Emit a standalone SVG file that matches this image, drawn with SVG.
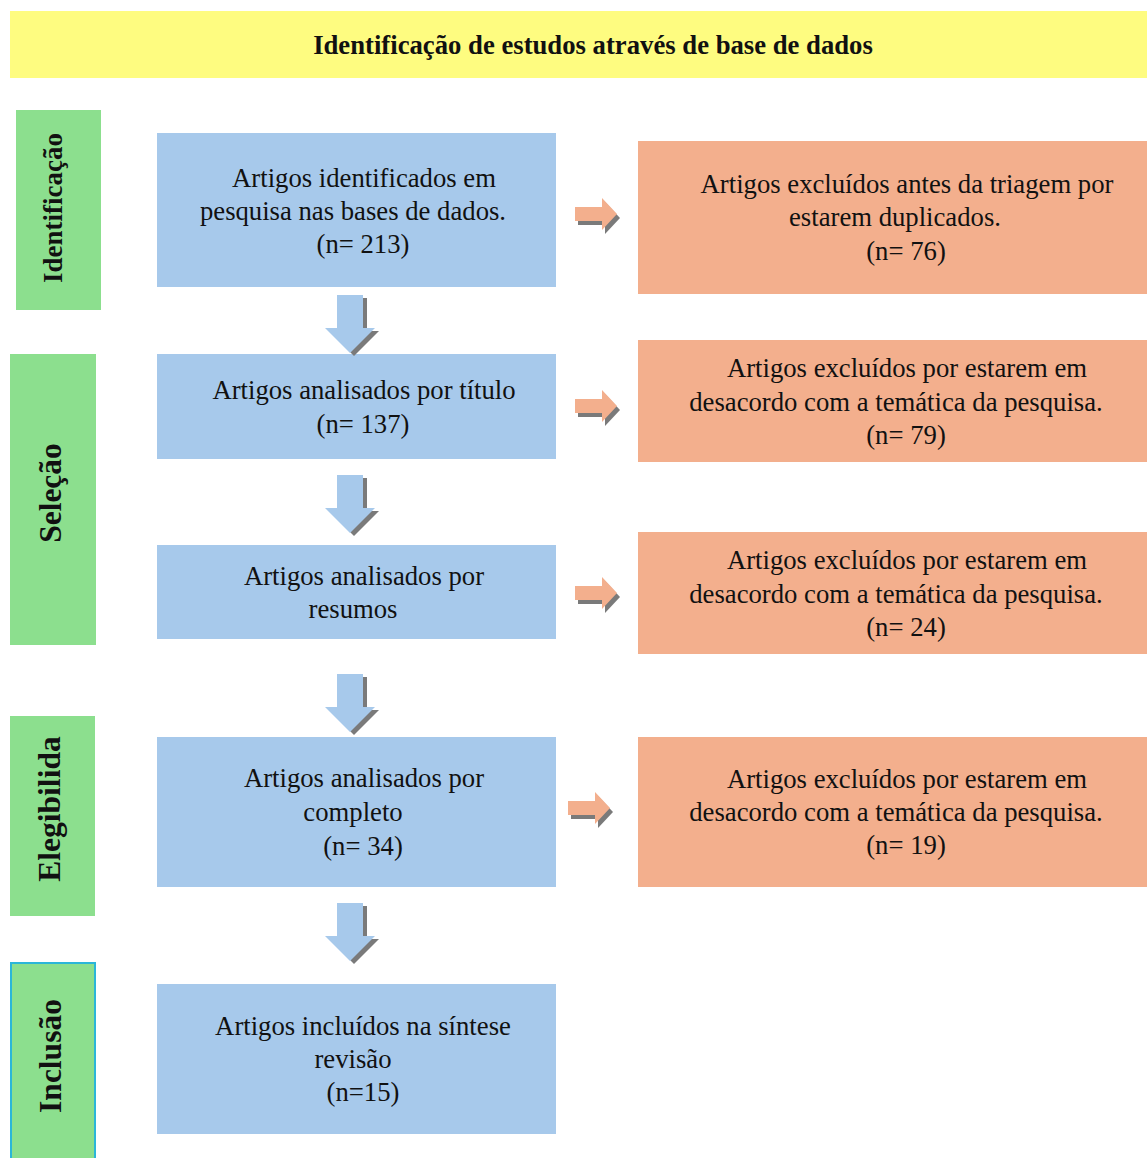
<svg xmlns="http://www.w3.org/2000/svg" width="1147" height="1158" viewBox="0 0 1147 1158">
<style>
.t{font-family:"Liberation Serif","Times New Roman",serif;font-size:26.7px;fill:#111;text-anchor:middle}
.h{font-family:"Liberation Serif","Times New Roman",serif;font-size:26.7px;font-weight:bold;fill:#111;text-anchor:middle}
.s{font-family:"Liberation Serif","Times New Roman",serif;font-size:31.5px;font-weight:bold;fill:#111;text-anchor:middle}
.s1{font-size:27px}
.blue{fill:#A7C9EB}
.orange{fill:#F3AF8D}
.green{fill:#8CDF8E}
.ar{fill:#F3AF8D}
.ad{fill:#A7C9EB}
.sh{fill:#7A7A7A}
</style>
<defs>
<path id="ra" d="M0,-7 L27,-7 L27,-16 L42,0 L27,16 L27,7 L0,7 Z"/>
<path id="da" d="M-13,0 L13,0 L13,33 L25,33 L0,58 L-25,33 L-13,33 Z"/>
</defs>
<rect width="1147" height="1158" fill="#fff"/>
<g id="header">
<rect x="10" y="11" width="1137" height="67" fill="#FEFC80"/>
<text class="h" x="593" y="54">Identificação de estudos através de base de dados</text>
</g>
<g id="stage-identificacao">
<rect class="green" x="16" y="110" width="85" height="200"/>
<text class="s s1" transform="translate(62,208) rotate(-90)">Identificação</text>
</g>
<g id="stage-selecao">
<rect class="green" x="10" y="354" width="86" height="291"/>
<text class="s" transform="translate(61,493) rotate(-90)">Seleção</text>
</g>
<g id="stage-elegibilidade">
<rect class="green" x="10" y="716" width="85" height="200"/>
<text class="s" transform="translate(60,809) rotate(-90)">Elegibilida</text>
</g>
<g id="stage-inclusao">
<rect class="green" x="11" y="963" width="84" height="196" stroke="#2BB6D8" stroke-width="2"/>
<text class="s" transform="translate(61,1056) rotate(-90)">Inclusão</text>
</g>
<g id="box-identificados">
<rect class="blue" x="157" y="133" width="399" height="154"/>
<text class="t" x="364" y="187">Artigos identificados em</text>
<text class="t" x="353" y="220">pesquisa nas bases de dados.</text>
<text class="t" x="363" y="253">(n= 213)</text>
</g>
<g id="box-titulo">
<rect class="blue" x="157" y="354" width="399" height="105"/>
<text class="t" x="364" y="399">Artigos analisados por título</text>
<text class="t" x="363" y="433">(n= 137)</text>
</g>
<g id="box-resumos">
<rect class="blue" x="157" y="545" width="399" height="94"/>
<text class="t" x="364" y="585">Artigos analisados por</text>
<text class="t" x="353" y="618">resumos</text>
</g>
<g id="box-completo">
<rect class="blue" x="157" y="737" width="399" height="150"/>
<text class="t" x="364" y="787">Artigos analisados por</text>
<text class="t" x="353" y="821">completo</text>
<text class="t" x="363" y="855">(n= 34)</text>
</g>
<g id="box-incluidos">
<rect class="blue" x="157" y="984" width="399" height="150"/>
<text class="t" x="363" y="1035">Artigos incluídos na síntese</text>
<text class="t" x="353" y="1068">revisão</text>
<text class="t" x="363" y="1101">(n=15)</text>
</g>
<g id="box-excl-duplicados">
<rect class="orange" x="638" y="141" width="509" height="153"/>
<text class="t" x="907" y="193">Artigos excluídos antes da triagem por</text>
<text class="t" x="895" y="226">estarem duplicados.</text>
<text class="t" x="906" y="260">(n= 76)</text>
</g>
<g id="box-excl-titulo">
<rect class="orange" x="638" y="340" width="509" height="122"/>
<text class="t" x="907" y="377">Artigos excluídos por estarem em</text>
<text class="t" x="896" y="411">desacordo com a temática da pesquisa.</text>
<text class="t" x="906" y="444">(n= 79)</text>
</g>
<g id="box-excl-resumos">
<rect class="orange" x="638" y="532" width="509" height="122"/>
<text class="t" x="907" y="569">Artigos excluídos por estarem em</text>
<text class="t" x="896" y="603">desacordo com a temática da pesquisa.</text>
<text class="t" x="906" y="636">(n= 24)</text>
</g>
<g id="box-excl-completo">
<rect class="orange" x="638" y="737" width="509" height="150"/>
<text class="t" x="907" y="788">Artigos excluídos por estarem em</text>
<text class="t" x="896" y="821">desacordo com a temática da pesquisa.</text>
<text class="t" x="906" y="854">(n= 19)</text>
</g>
<g id="connectors">
<use href="#ra" class="sh" transform="translate(578,218)"/>
<use href="#ra" class="ar" transform="translate(575,214)"/>
<use href="#ra" class="sh" transform="translate(578,410)"/>
<use href="#ra" class="ar" transform="translate(575,406)"/>
<use href="#ra" class="sh" transform="translate(578,597)"/>
<use href="#ra" class="ar" transform="translate(575,593)"/>
<use href="#ra" class="sh" transform="translate(571,812)"/>
<use href="#ra" class="ar" transform="translate(568,808)"/>
<use href="#da" class="sh" transform="translate(354,298)"/>
<use href="#da" class="ad" transform="translate(350,295)"/>
<use href="#da" class="sh" transform="translate(354,478)"/>
<use href="#da" class="ad" transform="translate(350,475)"/>
<use href="#da" class="sh" transform="translate(354,677)"/>
<use href="#da" class="ad" transform="translate(350,674)"/>
<use href="#da" class="sh" transform="translate(354,906)"/>
<use href="#da" class="ad" transform="translate(350,903)"/>
</g>
</svg>
